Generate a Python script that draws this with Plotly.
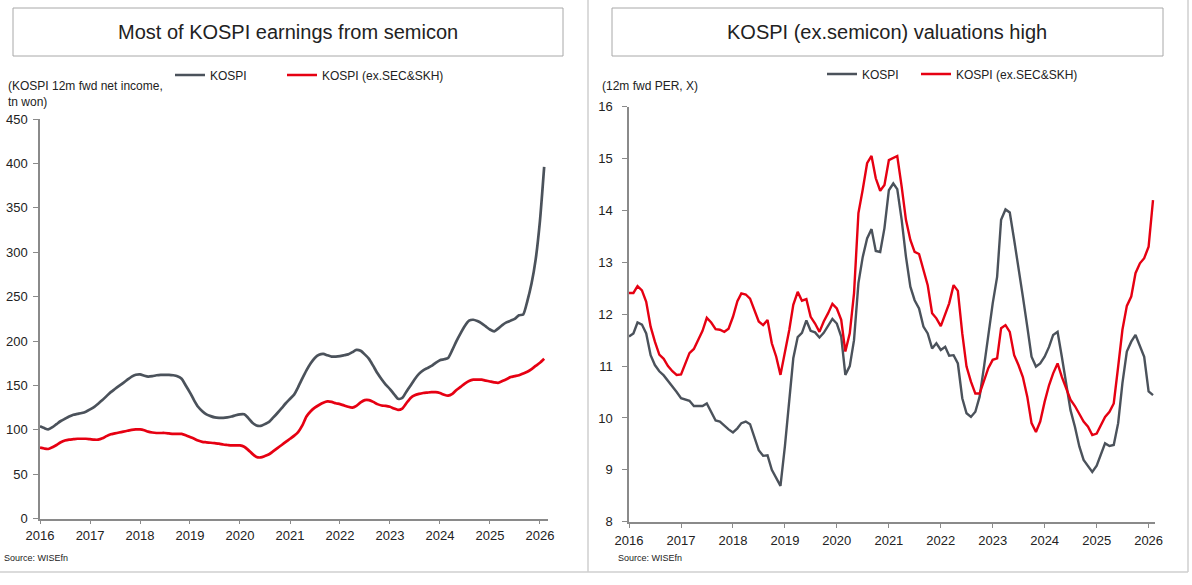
import pandas as pd
import plotly.graph_objects as go

# ---------------- data ----------------
months = pd.date_range("2016-01-01", periods=122, freq="MS")
years = list(range(2016, 2027))
year_labels = [str(y) for y in years]

kospi_ni = [
    104, 102, 100.5, 103, 106.5, 110, 112.5, 115, 117, 118, 119, 120.5,
    123, 126, 129.5, 133.5, 138, 142.5, 146, 149.5, 153, 156.5, 160, 162,
    162.5, 161, 160, 160.5, 161.5, 162, 162, 162, 161.5, 160.5, 157.5, 150,
    142, 133, 126, 121, 117.5, 115.5, 114, 113.5, 113.5, 114, 115, 116.5,
    117.5, 117.5, 113.5, 108, 105, 104.5, 106.5, 109, 114, 119, 124.5, 130,
    135, 140, 148, 158, 167, 175, 181, 184.5, 185.5, 184, 182.5, 182.5,
    183, 184, 185, 187.5, 190, 189, 185, 180, 172, 164, 157, 151,
    146, 140, 135, 136, 143, 150, 157, 163, 167, 169.5, 172, 175.5,
    178.5, 179.5, 181, 190, 200, 209, 217, 223, 224, 222.5, 220, 216.5,
    213, 211, 214, 218, 221, 223, 225, 229, 230, 245, 265, 292,
    335, 396,
]
kospi_ex_ni = [
    80, 79, 78.5, 80.5, 83, 86, 88, 89, 89.5, 90, 90, 90,
    89.5, 89, 89, 90.5, 93, 95, 96, 97, 98, 99, 100, 100.5,
    100.5, 99.5, 98, 97, 96.5, 96.5, 96.5, 96, 95.5, 95.5, 95.5, 94,
    92, 90, 88, 86.5, 86, 85.5, 85, 84.5, 83.5, 83, 82.5, 82.5,
    82.5, 81, 77.5, 73, 69.5, 69, 70.5, 72.5, 76, 79.5, 83, 86.5,
    90, 93.5, 97.5, 105, 115, 121, 125, 128, 130.5, 132, 131.5, 130,
    129, 127.5, 126, 125, 127, 131, 133.5, 133.5, 131.5, 129, 127.5, 127,
    126, 124, 122.5, 124, 130, 136, 139, 140.5, 141.5, 142, 142.5, 142.5,
    141.5, 139.5, 138.5, 140.5, 145, 148.5, 152, 155, 156.5, 156.5, 156.5, 155.5,
    154.5, 153.5, 153, 155, 157, 159.5, 160.5, 161.5, 163.5, 165.5, 168.5, 172,
    175.5, 180,
]
kospi_per = [
    11.57, 11.63, 11.84, 11.80, 11.63, 11.21, 11.02, 10.90, 10.82, 10.72, 10.60, 10.50,
    10.38, 10.35, 10.33, 10.23, 10.23, 10.23, 10.28, 10.10, 9.95, 9.93, 9.85, 9.78,
    9.72, 9.80, 9.90, 9.93, 9.88, 9.64, 9.38, 9.27, 9.28, 9.00, 8.84, 8.69,
    9.45, 10.34, 11.15, 11.56, 11.64, 11.88, 11.68, 11.65, 11.55, 11.64, 11.79, 11.91,
    11.82, 11.57, 10.83, 11.00, 11.50, 12.60, 13.10, 13.46, 13.64, 13.22, 13.20, 13.66,
    14.39, 14.52, 14.41, 13.82, 13.11, 12.53, 12.27, 12.11, 11.76, 11.63, 11.34, 11.44,
    11.31, 11.37, 11.20, 11.21, 11.05, 10.38, 10.09, 10.02, 10.12, 10.41, 10.99, 11.63,
    12.21, 12.72, 13.82, 14.02, 13.96, 13.43, 12.92, 12.34, 11.76, 11.18, 10.99, 11.05,
    11.18, 11.37, 11.60, 11.66, 11.18, 10.63, 10.15, 9.83, 9.45, 9.19, 9.06, 8.96,
    9.08, 9.32, 9.51, 9.46, 9.48, 9.90, 10.67, 11.28, 11.47, 11.60, 11.37, 11.18,
    10.51, 10.44,
]
kospi_ex_per = [
    12.41, 12.41, 12.54, 12.46, 12.24, 11.76, 11.47, 11.22, 11.14, 11.00, 10.90, 10.83,
    10.84, 11.07, 11.25, 11.33, 11.50, 11.68, 11.93, 11.84, 11.71, 11.70, 11.66, 11.72,
    11.95, 12.25, 12.40, 12.38, 12.30, 12.08, 11.86, 11.79, 11.89, 11.44, 11.18, 10.83,
    11.25, 11.70, 12.18, 12.43, 12.26, 12.29, 11.95, 11.82, 11.66, 11.86, 12.02, 12.20,
    12.11, 11.89, 11.28, 11.63, 12.40, 13.95, 14.40, 14.91, 15.05, 14.62, 14.38, 14.49,
    14.97, 15.02, 15.05, 14.46, 13.82, 13.43, 13.20, 13.16, 12.85, 12.56, 12.02, 11.92,
    11.77, 12.02, 12.21, 12.56, 12.45, 11.63, 10.99, 10.70, 10.47, 10.47, 10.70, 10.96,
    11.12, 11.15, 11.73, 11.79, 11.66, 11.21, 11.02, 10.79, 10.41, 9.90, 9.73, 9.93,
    10.31, 10.63, 10.86, 11.05, 10.79, 10.57, 10.35, 10.23, 10.08, 9.93, 9.83, 9.67,
    9.70, 9.88, 10.02, 10.12, 10.28, 10.99, 11.70, 12.16, 12.34, 12.79, 12.98, 13.08,
    13.30, 14.20,
]

# ---------------- style ----------------
W, H = 1192, 585
GRAY = "#4b525b"
RED = "#e60012"
AXIS = "#8a8a8a"
FONT = "Liberation Sans"
TXT = "#222222"


def px(x):
    return x / W


def py(y):
    return (H - y) / H


fig = go.Figure()

fig.add_trace(go.Scatter(x=months, y=kospi_ni, name="KOSPI", mode="lines",
                         line=dict(color=GRAY, width=2.7, shape="spline", smoothing=0.6),
                         xaxis="x", yaxis="y", legend="legend"))
fig.add_trace(go.Scatter(x=months, y=kospi_ex_ni, name="KOSPI (ex.SEC&SKH)", mode="lines",
                         line=dict(color=RED, width=2.7, shape="spline", smoothing=0.6),
                         xaxis="x", yaxis="y", legend="legend2"))
fig.add_trace(go.Scatter(x=months, y=kospi_per, name="KOSPI", mode="lines",
                         line=dict(color=GRAY, width=2.4),
                         xaxis="x2", yaxis="y2", legend="legend3"))
fig.add_trace(go.Scatter(x=months, y=kospi_ex_per, name="KOSPI (ex.SEC&SKH)", mode="lines",
                         line=dict(color=RED, width=2.4),
                         xaxis="x2", yaxis="y2", legend="legend4"))

tickvals = [f"{y}-01-01" for y in years]


def xax(standoff, ticklen):
    return dict(type="date", tickmode="array", tickvals=tickvals, ticktext=year_labels,
                showline=True, linecolor=AXIS, linewidth=1.5, ticks="outside",
                ticklen=ticklen, tickcolor=AXIS, showgrid=False, zeroline=False,
                automargin=False, ticklabelstandoff=standoff,
                tickfont=dict(family=FONT, size=13, color=TXT), fixedrange=True)


def yax(standoff):
    return dict(showline=True, linecolor=AXIS, linewidth=1.5, ticks="outside",
                ticklen=5, tickcolor=AXIS, showgrid=False, zeroline=False,
                automargin=False, ticklabelstandoff=standoff,
                tickfont=dict(family=FONT, size=13, color=TXT), fixedrange=True)


def leg(x, y):
    return dict(orientation="h", x=px(x), y=py(y), xanchor="left", yanchor="middle",
                font=dict(family=FONT, size=12, color=TXT), bgcolor="rgba(0,0,0,0)",
                itemwidth=30, borderwidth=0)


fig.update_layout(
    width=W, height=H,
    template="plotly_white",
    margin=dict(l=0, r=0, t=0, b=0, autoexpand=False),
    paper_bgcolor="white", plot_bgcolor="white",
    font=dict(family=FONT, color=TXT),
    xaxis=dict(domain=[px(40), px(548)], range=["2016-01-01", "2026-03-01"],
               anchor="y", **xax(0, 4)),
    yaxis=dict(domain=[py(518.7), py(119)], range=[0, 450], dtick=50,
               anchor="x", **yax(3)),
    xaxis2=dict(domain=[px(629), px(1155)], range=["2016-01-01", "2026-02-15"],
                anchor="y2", **xax(1, 5)),
    yaxis2=dict(domain=[py(521.7), py(106.7)], range=[8, 16], dtick=1,
                anchor="x2", **yax(7)),
    legend=leg(170, 75),
    legend2=leg(282, 75),
    legend3=leg(822, 74),
    legend4=leg(916, 74),
    showlegend=True,
)

shapes = [
    dict(type="rect", xref="paper", yref="paper", x0=px(13), x1=px(563), y0=py(56), y1=py(8),
         line=dict(color="#a8a8a8", width=1), fillcolor="rgba(0,0,0,0)"),
    dict(type="rect", xref="paper", yref="paper", x0=px(612), x1=px(1163), y0=py(56), y1=py(8),
         line=dict(color="#a8a8a8", width=1), fillcolor="rgba(0,0,0,0)"),
    dict(type="line", xref="paper", yref="paper", x0=px(588), x1=px(588), y0=py(572), y1=1,
         line=dict(color="#cfcfcf", width=1.5)),
    dict(type="line", xref="paper", yref="paper", x0=px(1188), x1=px(1188), y0=py(572), y1=1,
         line=dict(color="#cfcfcf", width=1.5)),
    dict(type="line", xref="paper", yref="paper", x0=0, x1=px(1188), y0=py(572), y1=py(572),
         line=dict(color="#cfcfcf", width=1.5)),
]
fig.update_layout(shapes=shapes)

annotations = [
    dict(text="Most of KOSPI earnings from semicon", x=px(288), y=py(32),
         font=dict(size=20, family=FONT, color=TXT)),
    dict(text="KOSPI (ex.semicon) valuations high", x=px(887), y=py(32),
         font=dict(size=20, family=FONT, color=TXT)),
    dict(text="(KOSPI 12m fwd net income,<br>tn won)", x=px(6), y=py(77), xanchor="left",
         yanchor="top", align="left", font=dict(size=12, family=FONT, color=TXT)),
    dict(text="(12m fwd PER, X)", x=px(600), y=py(86), xanchor="left",
         font=dict(size=12, family=FONT, color=TXT)),
    dict(text="Source: WISEfn", x=px(2), y=py(558), xanchor="left",
         font=dict(size=9, family=FONT, color=TXT)),
    dict(text="Source: WISEfn", x=px(616), y=py(558), xanchor="left",
         font=dict(size=9, family=FONT, color=TXT)),
]
for a in annotations:
    a.setdefault("xanchor", "center")
    a.setdefault("yanchor", "middle")
    a.update(xref="paper", yref="paper", showarrow=False)
fig.update_layout(annotations=annotations)

fig.write_html("out.html")
